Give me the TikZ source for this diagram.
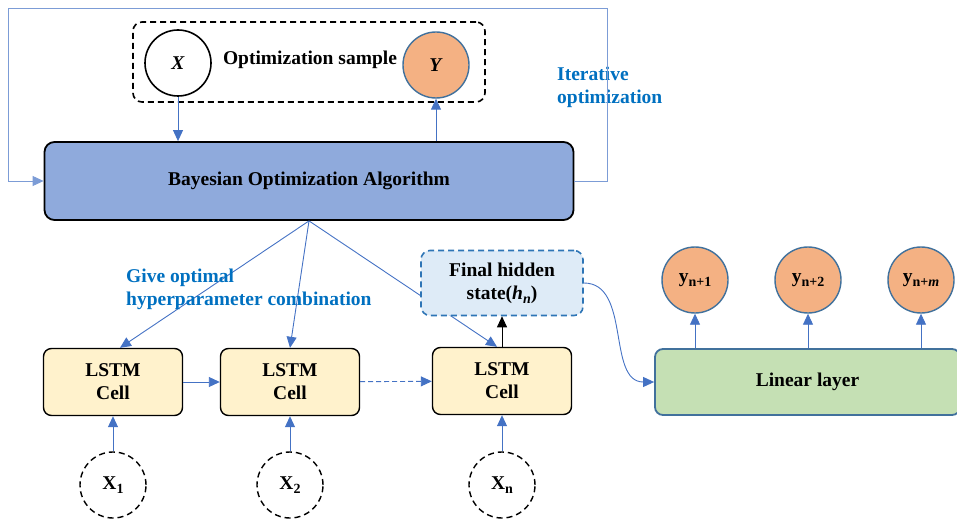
\documentclass[tikz,border=0pt]{standalone}
\usepackage{fontspec}
\setmainfont{Liberation Serif}
\usetikzlibrary{arrows.meta}
\definecolor{lineblue}{HTML}{4472C4}
\definecolor{labelblue}{HTML}{0070C0}
\definecolor{bayesfill}{HTML}{8FAADC}
\definecolor{cellfill}{HTML}{FFF2CC}
\definecolor{hiddenfill}{HTML}{DEEBF7}
\definecolor{hiddenline}{HTML}{2E75B6}
\definecolor{orangefill}{HTML}{F4B183}
\definecolor{greenfill}{HTML}{C5E0B4}
\definecolor{circleline}{HTML}{41719C}
\newcommand{\lowsub}[1]{\raisebox{-0.45ex}{\fontsize{14}{14}\selectfont #1}}
\tikzset{
  lbl/.style={font=\bfseries\fontsize{19.5}{23}\selectfont, align=center, inner sep=0pt},
  note/.style={lbl, text=labelblue, align=left},
  tip/.style={-{Triangle[length=11pt,width=10pt]}},
  flow/.style={draw=lineblue, line width=0.9pt, tip},
  loopline/.style={flow, draw=lineblue!70},
  longdash/.style={dash pattern=on 6pt off 4pt},
  samplebox/.style={draw, longdash, line width=1.6pt, rounded corners=9pt, minimum width=352pt, minimum height=80pt},
  incircle/.style={lbl, circle, draw, line width=1.6pt, fill=white, minimum size=66pt},
  outcircle/.style={lbl, circle, draw=circleline, line width=1.4pt, fill=orangefill, minimum size=66pt},
  xcircle/.style={lbl, circle, draw, longdash, line width=1.4pt, fill=white, minimum size=66pt},
  bayesbox/.style={lbl, draw, line width=1.8pt, rounded corners=10pt, fill=bayesfill, minimum width=529pt, minimum height=78pt},
  cell/.style={lbl, draw, line width=1.4pt, rounded corners=8pt, fill=cellfill, minimum width=139pt, minimum height=67pt},
  hiddenbox/.style={lbl, draw=hiddenline, longdash, line width=1.6pt, rounded corners=9pt, fill=hiddenfill, minimum width=162pt, minimum height=65pt},
  linbox/.style={lbl, draw=circleline, line width=1.8pt, rounded corners=8pt, fill=greenfill, minimum width=305pt, minimum height=66pt}
}
\begin{document}
\begin{tikzpicture}[x=1pt,y=-1pt]
  \clip (0,0) rectangle (957,521);
  \node[samplebox] at (309,62) (sample) {};
  \node[incircle] at (178,63) (X) {\textit{X}};
  \node[outcircle] at (436,65) (Y) {\textit{Y}};
  \node[lbl] at (310,60) (sampletxt) {Optimization sample};
  \node[bayesbox] at (309,181) (bayes) {Bayesian Optimization Algorithm};
  \node[note, anchor=west] at (557,87) (iter) {Iterative\\optimization};
  \coordinate (loopR) at (607,181);
  \coordinate (loopL) at (8,8);
  \draw[flow] (X) -- (X |- bayes.north);
  \draw[flow] (Y |- bayes.north) -- (Y);
  \draw[loopline] (bayes.east) -- (loopR) |- (loopL) |- (bayes.west);

  \node[cell] at (113,382) (cellA) {LSTM\\Cell};
  \node[cell] at (290,382) (cellB) {LSTM\\Cell};
  \node[cell] at (502,381) (cellN) {LSTM\\Cell};
  \node[xcircle] at (113,485) (xA) {X\lowsub{1}};
  \node[xcircle] at (290,485) (xB) {X\lowsub{2}};
  \node[xcircle] at (502,485) (xN) {X\lowsub{n}};
  \draw[flow] (xA) -- (cellA);
  \draw[flow] (xB) -- (cellB);
  \draw[flow] (xN) -- (cellN);
  \draw[flow] (cellA) -- (cellB);
  \draw[flow, dash pattern=on 5pt off 3pt] (cellB) -- (cellN);
  \draw[flow] (bayes.south) -- ([xshift=7]cellA.north);
  \draw[flow] (bayes.south) -- (cellB.north);
  \draw[flow] (bayes.south) -- ([xshift=-5]cellN.north);
  \node[hiddenbox] at (502,283) (hidden) {Final hidden\\state(\textit{h}\lowsub{\textit{n}})};
  \draw[line width=0.9pt, tip] (cellN) -- (hidden);
  \node[note, anchor=west] at (126,289) (give) {Give optimal\\hyperparameter combination};

  \node[linbox] at (807.5,382) (linear) {Linear layer};
  \node[outcircle] at (695,280) (yA) {y\lowsub{n+1}};
  \node[outcircle] at (808,280) (yB) {y\lowsub{n+2}};
  \node[outcircle] at (921,280) (yM) {y\lowsub{n+\textit{m}}};
  \draw[flow] (yA |- linear.north) -- (yA);
  \draw[flow] (yB |- linear.north) -- (yB);
  \draw[flow] (yM |- linear.north) -- (yM);
  \draw[flow] (hidden.east) to[out=0,in=180] (linear.west);
\end{tikzpicture}
\end{document}
